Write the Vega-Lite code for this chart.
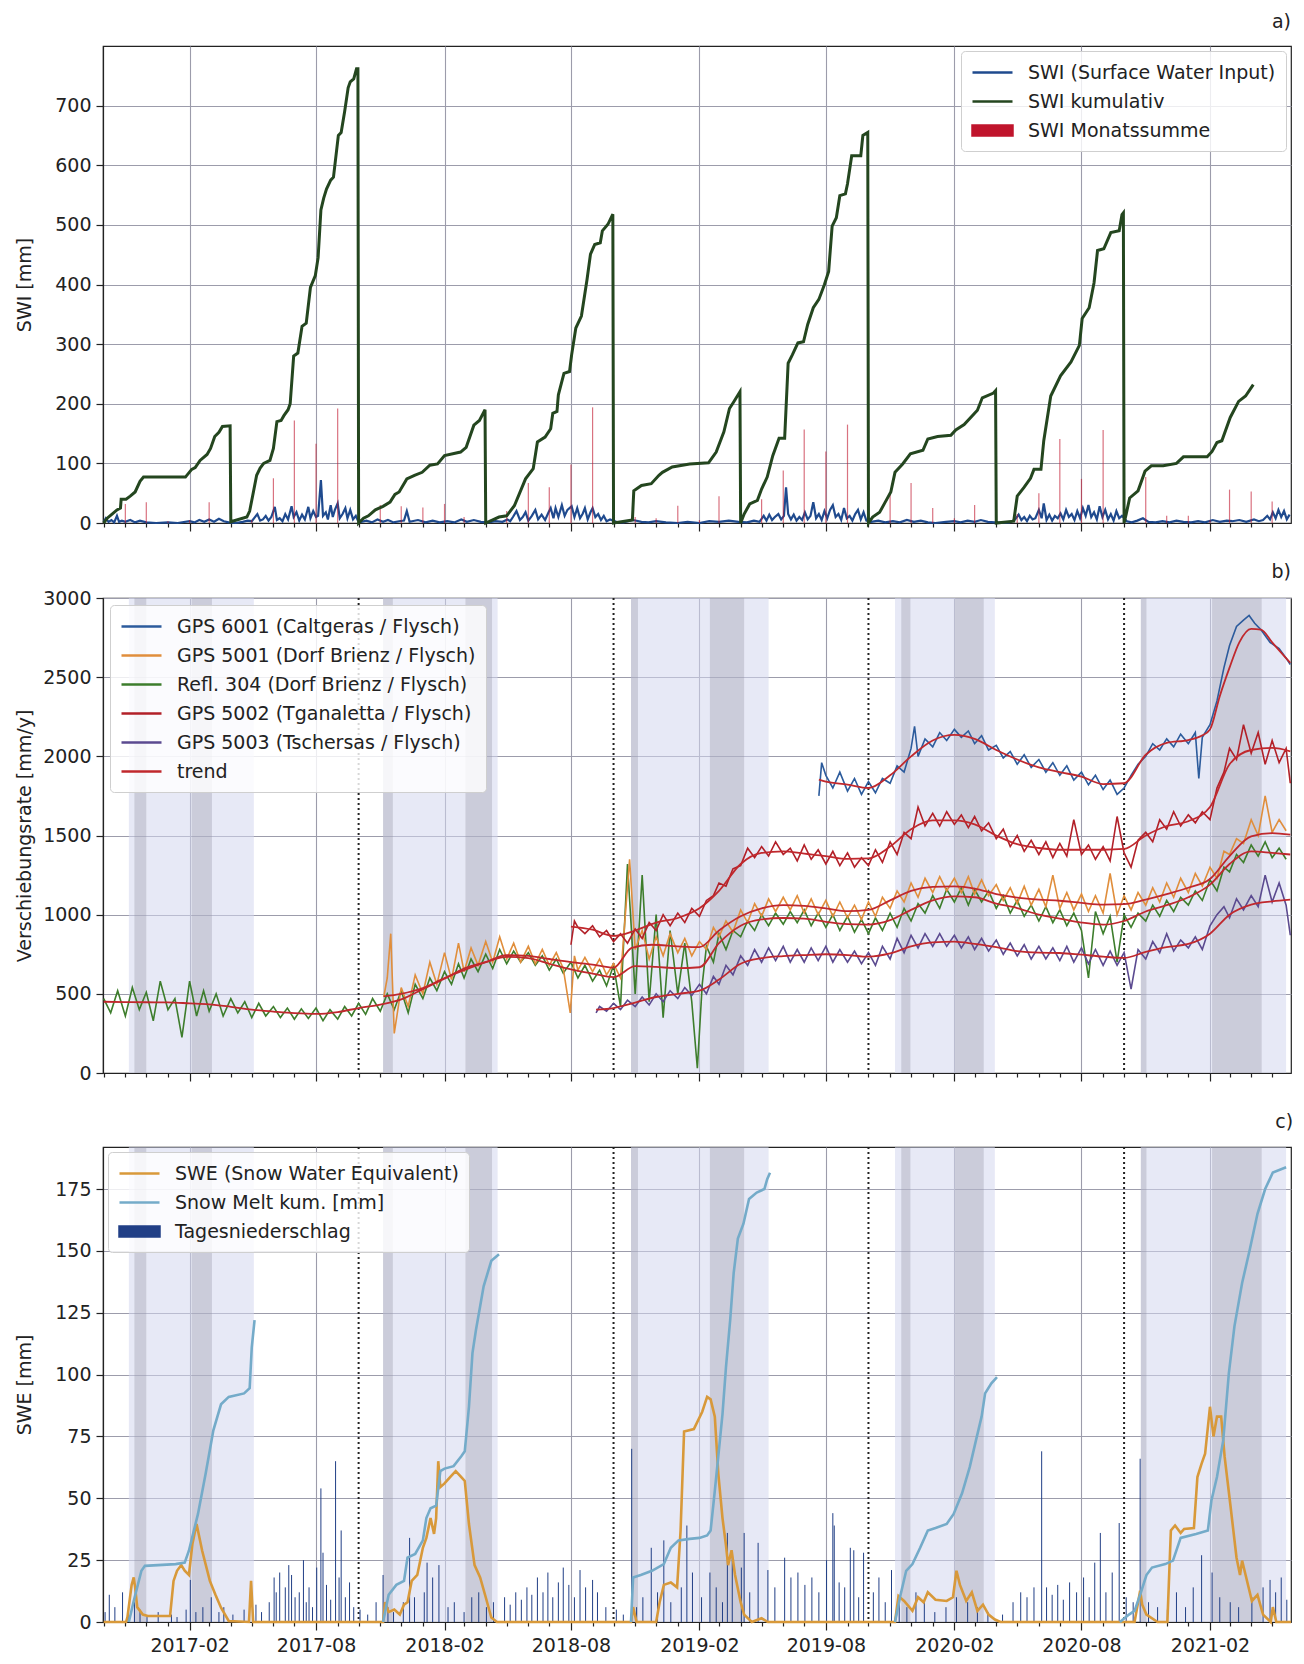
{
"$schema":"https://vega.github.io/schema/vega-lite/v6.json",
"padding":{"left":14,"top":12,"right":9,"bottom":4},
"spacing":28,
"resolve":{"scale":{"color":"independent"},"legend":{"color":"independent"}},
"config":{"font":"DejaVu Sans","view":{"stroke":"#222","strokeWidth":1.2},
"axis":{"labelFont":"DejaVu Sans","titleFont":"DejaVu Sans","labelColor":"#222","titleColor":"#222","labelFontSize":19,"titleFontSize":19,"titleFontWeight":"normal","domainColor":"#222","tickColor":"#222","gridColor":"#9c9cab","gridWidth":1.1,"domainWidth":1.2,"tickWidth":1.2},
"legend":{"labelFont":"DejaVu Sans","labelFontSize":19,"labelColor":"#222","labelLimit":500,"symbolType":"M-1,0H3","symbolSize":400,"symbolStrokeWidth":2.5,"labelOffset":34,"rowPadding":7,"padding":10,"fillColor":"rgba(255,255,255,0.82)","strokeColor":"#cfcfcf","cornerRadius":4},
"title":{"anchor":"end","fontSize":19,"font":"DejaVu Sans","fontWeight":"normal","offset":14,"dx":-3,"color":"#222"}},
"datasets":{
"bandsL":[{"t":"2016-11-06","t2":"2017-05-04"},{"t":"2017-11-05","t2":"2018-04-18"},{"t":"2018-10-26","t2":"2019-05-11"},{"t":"2019-11-08","t2":"2020-03-30"},{"t":"2020-10-25","t2":"2021-05-21"}],
"bandsD":[{"t":"2016-11-14","t2":"2016-12-01"},{"t":"2017-02-04","t2":"2017-03-05"},{"t":"2017-11-05","t2":"2017-11-19"},{"t":"2018-03-03","t2":"2018-04-10"},{"t":"2018-10-26","t2":"2018-11-05"},{"t":"2019-02-16","t2":"2019-04-06"},{"t":"2019-11-17","t2":"2019-11-30"},{"t":"2020-02-02","t2":"2020-03-14"},{"t":"2020-10-25","t2":"2020-11-02"},{"t":"2021-02-04","t2":"2021-04-16"}],
"oct":[{"t":"2017-10-01"},{"t":"2018-10-01"},{"t":"2019-10-01"},{"t":"2020-10-01"}],
"swi":[{"t":"2016-10-01","v":2},{"t":"2016-10-04","v":8},{"t":"2016-10-08","v":2},{"t":"2016-10-12","v":5},{"t":"2016-10-16","v":1},{"t":"2016-10-20","v":12},{"t":"2016-10-23","v":2},{"t":"2016-10-27","v":4},{"t":"2016-11-01","v":2},{"t":"2016-11-08","v":5},{"t":"2016-11-15","v":1},{"t":"2016-11-22","v":4},{"t":"2016-12-01","v":1},{"t":"2016-12-15","v":0},{"t":"2017-01-01","v":1},{"t":"2017-01-15","v":0},{"t":"2017-02-01","v":3},{"t":"2017-02-08","v":1},{"t":"2017-02-15","v":5},{"t":"2017-02-22","v":2},{"t":"2017-03-01","v":6},{"t":"2017-03-08","v":2},{"t":"2017-03-15","v":7},{"t":"2017-03-22","v":3},{"t":"2017-03-29","v":1},{"t":"2017-04-08","v":0},{"t":"2017-04-18","v":2},{"t":"2017-04-25","v":4},{"t":"2017-05-01","v":3},{"t":"2017-05-05","v":9},{"t":"2017-05-09","v":15},{"t":"2017-05-13","v":4},{"t":"2017-05-17","v":6},{"t":"2017-05-21","v":12},{"t":"2017-05-25","v":4},{"t":"2017-05-29","v":10},{"t":"2017-06-03","v":27},{"t":"2017-06-06","v":5},{"t":"2017-06-10","v":8},{"t":"2017-06-14","v":3},{"t":"2017-06-18","v":15},{"t":"2017-06-22","v":6},{"t":"2017-06-27","v":28},{"t":"2017-06-30","v":10},{"t":"2017-07-04","v":18},{"t":"2017-07-08","v":4},{"t":"2017-07-12","v":14},{"t":"2017-07-16","v":6},{"t":"2017-07-21","v":27},{"t":"2017-07-24","v":8},{"t":"2017-07-28","v":20},{"t":"2017-08-01","v":10},{"t":"2017-08-04","v":12},{"t":"2017-08-08","v":72},{"t":"2017-08-11","v":12},{"t":"2017-08-15","v":18},{"t":"2017-08-18","v":6},{"t":"2017-08-22","v":30},{"t":"2017-08-25","v":10},{"t":"2017-08-28","v":22},{"t":"2017-09-01","v":33},{"t":"2017-09-04","v":8},{"t":"2017-09-08","v":15},{"t":"2017-09-12","v":25},{"t":"2017-09-15","v":8},{"t":"2017-09-19","v":22},{"t":"2017-09-23","v":6},{"t":"2017-09-27","v":12},{"t":"2017-09-30","v":4},{"t":"2017-10-05","v":2},{"t":"2017-10-12","v":4},{"t":"2017-10-20","v":1},{"t":"2017-10-28","v":6},{"t":"2017-11-05","v":2},{"t":"2017-11-12","v":5},{"t":"2017-11-20","v":1},{"t":"2017-11-28","v":3},{"t":"2017-12-05","v":4},{"t":"2017-12-09","v":20},{"t":"2017-12-13","v":2},{"t":"2017-12-25","v":5},{"t":"2018-01-05","v":1},{"t":"2018-01-15","v":4},{"t":"2018-01-25","v":1},{"t":"2018-02-05","v":3},{"t":"2018-02-15","v":1},{"t":"2018-02-25","v":6},{"t":"2018-03-05","v":2},{"t":"2018-03-15","v":5},{"t":"2018-03-25","v":2},{"t":"2018-04-05","v":1},{"t":"2018-04-15","v":3},{"t":"2018-04-25","v":2},{"t":"2018-05-02","v":6},{"t":"2018-05-06","v":3},{"t":"2018-05-10","v":10},{"t":"2018-05-15","v":20},{"t":"2018-05-20","v":5},{"t":"2018-05-24","v":10},{"t":"2018-05-28","v":18},{"t":"2018-06-01","v":4},{"t":"2018-06-06","v":12},{"t":"2018-06-11","v":22},{"t":"2018-06-15","v":6},{"t":"2018-06-20","v":14},{"t":"2018-06-25","v":5},{"t":"2018-06-30","v":18},{"t":"2018-07-03","v":25},{"t":"2018-07-07","v":8},{"t":"2018-07-10","v":25},{"t":"2018-07-14","v":10},{"t":"2018-07-19","v":30},{"t":"2018-07-23","v":12},{"t":"2018-07-27","v":22},{"t":"2018-08-02","v":28},{"t":"2018-08-06","v":10},{"t":"2018-08-10","v":25},{"t":"2018-08-14","v":8},{"t":"2018-08-18","v":16},{"t":"2018-08-21","v":25},{"t":"2018-08-25","v":6},{"t":"2018-08-29","v":18},{"t":"2018-09-01","v":25},{"t":"2018-09-05","v":10},{"t":"2018-09-09","v":15},{"t":"2018-09-13","v":5},{"t":"2018-09-17","v":12},{"t":"2018-09-21","v":3},{"t":"2018-09-26","v":6},{"t":"2018-10-05","v":2},{"t":"2018-10-15","v":1},{"t":"2018-10-29","v":5},{"t":"2018-11-10","v":2},{"t":"2018-11-20","v":1},{"t":"2018-12-01","v":3},{"t":"2018-12-15","v":1},{"t":"2019-01-01","v":0},{"t":"2019-01-15","v":2},{"t":"2019-02-01","v":0},{"t":"2019-02-15","v":3},{"t":"2019-03-01","v":2},{"t":"2019-03-15","v":4},{"t":"2019-03-29","v":2},{"t":"2019-04-10","v":1},{"t":"2019-04-20","v":4},{"t":"2019-04-28","v":2},{"t":"2019-05-04","v":12},{"t":"2019-05-08","v":4},{"t":"2019-05-12","v":14},{"t":"2019-05-16","v":5},{"t":"2019-05-20","v":10},{"t":"2019-05-25","v":15},{"t":"2019-05-29","v":6},{"t":"2019-06-02","v":12},{"t":"2019-06-05","v":60},{"t":"2019-06-08","v":15},{"t":"2019-06-12","v":6},{"t":"2019-06-16","v":14},{"t":"2019-06-20","v":4},{"t":"2019-06-24","v":10},{"t":"2019-06-28","v":5},{"t":"2019-07-02","v":18},{"t":"2019-07-06","v":6},{"t":"2019-07-10","v":12},{"t":"2019-07-14","v":35},{"t":"2019-07-18","v":8},{"t":"2019-07-22","v":15},{"t":"2019-07-26","v":5},{"t":"2019-07-30","v":20},{"t":"2019-08-03","v":8},{"t":"2019-08-07","v":22},{"t":"2019-08-11","v":30},{"t":"2019-08-15","v":10},{"t":"2019-08-19","v":15},{"t":"2019-08-23","v":5},{"t":"2019-08-27","v":25},{"t":"2019-08-31","v":8},{"t":"2019-09-04","v":12},{"t":"2019-09-08","v":4},{"t":"2019-09-12","v":15},{"t":"2019-09-16","v":22},{"t":"2019-09-20","v":6},{"t":"2019-09-24","v":18},{"t":"2019-09-28","v":4},{"t":"2019-10-05","v":2},{"t":"2019-10-15","v":4},{"t":"2019-10-25","v":1},{"t":"2019-11-05","v":3},{"t":"2019-11-15","v":1},{"t":"2019-11-25","v":5},{"t":"2019-12-05","v":2},{"t":"2019-12-15","v":4},{"t":"2019-12-25","v":1},{"t":"2020-01-05","v":0},{"t":"2020-01-20","v":2},{"t":"2020-02-01","v":3},{"t":"2020-02-10","v":1},{"t":"2020-02-20","v":4},{"t":"2020-03-01","v":2},{"t":"2020-03-10","v":5},{"t":"2020-03-20","v":2},{"t":"2020-03-30","v":1},{"t":"2020-04-10","v":0},{"t":"2020-04-20","v":1},{"t":"2020-04-28","v":6},{"t":"2020-05-03","v":14},{"t":"2020-05-07","v":5},{"t":"2020-05-11","v":10},{"t":"2020-05-15","v":3},{"t":"2020-05-19","v":12},{"t":"2020-05-23","v":6},{"t":"2020-05-27","v":8},{"t":"2020-06-01","v":22},{"t":"2020-06-05","v":8},{"t":"2020-06-08","v":33},{"t":"2020-06-12","v":5},{"t":"2020-06-16","v":14},{"t":"2020-06-20","v":4},{"t":"2020-06-24","v":12},{"t":"2020-06-28","v":8},{"t":"2020-07-02","v":16},{"t":"2020-07-06","v":6},{"t":"2020-07-10","v":22},{"t":"2020-07-14","v":10},{"t":"2020-07-18","v":15},{"t":"2020-07-22","v":5},{"t":"2020-07-26","v":20},{"t":"2020-07-30","v":8},{"t":"2020-08-03","v":25},{"t":"2020-08-07","v":12},{"t":"2020-08-11","v":30},{"t":"2020-08-15","v":10},{"t":"2020-08-19","v":18},{"t":"2020-08-23","v":6},{"t":"2020-08-27","v":28},{"t":"2020-08-31","v":10},{"t":"2020-09-04","v":22},{"t":"2020-09-08","v":6},{"t":"2020-09-12","v":15},{"t":"2020-09-16","v":4},{"t":"2020-09-20","v":20},{"t":"2020-09-24","v":8},{"t":"2020-09-28","v":12},{"t":"2020-10-05","v":3},{"t":"2020-10-12","v":1},{"t":"2020-10-20","v":4},{"t":"2020-10-28","v":8},{"t":"2020-11-05","v":2},{"t":"2020-11-15","v":1},{"t":"2020-11-25","v":3},{"t":"2020-12-05","v":1},{"t":"2020-12-15","v":4},{"t":"2020-12-25","v":2},{"t":"2021-01-05","v":1},{"t":"2021-01-15","v":3},{"t":"2021-01-25","v":1},{"t":"2021-02-05","v":5},{"t":"2021-02-15","v":2},{"t":"2021-02-25","v":4},{"t":"2021-03-05","v":3},{"t":"2021-03-15","v":5},{"t":"2021-03-25","v":2},{"t":"2021-04-05","v":6},{"t":"2021-04-12","v":3},{"t":"2021-04-18","v":5},{"t":"2021-04-24","v":12},{"t":"2021-04-28","v":6},{"t":"2021-05-02","v":18},{"t":"2021-05-06","v":8},{"t":"2021-05-10","v":22},{"t":"2021-05-14","v":10},{"t":"2021-05-18","v":20},{"t":"2021-05-22","v":6},{"t":"2021-05-26","v":14}],
"cum":[{"t":"2016-10-01","v":0},{"t":"2016-10-06","v":8},{"t":"2016-10-13","v":15},{"t":"2016-10-20","v":22},{"t":"2016-10-25","v":25},{"t":"2016-10-26","v":40},{"t":"2016-11-02","v":40},{"t":"2016-11-08","v":45},{"t":"2016-11-15","v":52},{"t":"2016-11-22","v":70},{"t":"2016-11-27","v":77},{"t":"2017-01-26","v":77},{"t":"2017-02-04","v":90},{"t":"2017-02-09","v":93},{"t":"2017-02-16","v":105},{"t":"2017-02-26","v":115},{"t":"2017-03-03","v":125},{"t":"2017-03-09","v":145},{"t":"2017-03-15","v":152},{"t":"2017-03-20","v":162},{"t":"2017-03-31","v":163},{"t":"2017-04-01","v":2},{"t":"2017-04-24","v":10},{"t":"2017-04-28","v":20},{"t":"2017-05-03","v":50},{"t":"2017-05-08","v":80},{"t":"2017-05-13","v":92},{"t":"2017-05-18","v":100},{"t":"2017-05-27","v":105},{"t":"2017-06-01","v":125},{"t":"2017-06-06","v":170},{"t":"2017-06-12","v":172},{"t":"2017-06-16","v":180},{"t":"2017-06-22","v":190},{"t":"2017-06-25","v":200},{"t":"2017-06-30","v":280},{"t":"2017-07-06","v":285},{"t":"2017-07-12","v":330},{"t":"2017-07-18","v":335},{"t":"2017-07-24","v":395},{"t":"2017-07-31","v":415},{"t":"2017-08-04","v":445},{"t":"2017-08-08","v":525},{"t":"2017-08-12","v":545},{"t":"2017-08-16","v":560},{"t":"2017-08-22","v":575},{"t":"2017-08-26","v":580},{"t":"2017-09-02","v":650},{"t":"2017-09-06","v":655},{"t":"2017-09-11","v":690},{"t":"2017-09-16","v":730},{"t":"2017-09-19","v":740},{"t":"2017-09-24","v":745},{"t":"2017-09-28","v":762},{"t":"2017-09-30","v":762},{"t":"2017-10-01","v":0},{"t":"2017-10-08","v":8},{"t":"2017-10-15","v":12},{"t":"2017-10-25","v":22},{"t":"2017-11-05","v":28},{"t":"2017-11-15","v":35},{"t":"2017-11-22","v":48},{"t":"2017-11-28","v":52},{"t":"2017-12-09","v":74},{"t":"2017-12-20","v":80},{"t":"2017-12-31","v":85},{"t":"2018-01-11","v":97},{"t":"2018-01-22","v":99},{"t":"2018-02-01","v":113},{"t":"2018-02-24","v":119},{"t":"2018-03-04","v":127},{"t":"2018-03-15","v":164},{"t":"2018-03-23","v":172},{"t":"2018-03-31","v":190},{"t":"2018-04-01","v":0},{"t":"2018-04-20","v":10},{"t":"2018-05-01","v":12},{"t":"2018-05-12","v":29},{"t":"2018-05-28","v":74},{"t":"2018-06-08","v":91},{"t":"2018-06-14","v":136},{"t":"2018-06-25","v":144},{"t":"2018-07-03","v":158},{"t":"2018-07-06","v":184},{"t":"2018-07-12","v":187},{"t":"2018-07-14","v":215},{"t":"2018-07-22","v":251},{"t":"2018-07-30","v":254},{"t":"2018-08-02","v":282},{"t":"2018-08-08","v":327},{"t":"2018-08-16","v":347},{"t":"2018-08-24","v":408},{"t":"2018-08-29","v":451},{"t":"2018-09-04","v":467},{"t":"2018-09-12","v":470},{"t":"2018-09-15","v":490},{"t":"2018-09-23","v":501},{"t":"2018-09-30","v":518},{"t":"2018-10-01","v":0},{"t":"2018-10-28","v":5},{"t":"2018-10-30","v":54},{"t":"2018-11-10","v":63},{"t":"2018-11-24","v":66},{"t":"2018-12-05","v":80},{"t":"2018-12-10","v":85},{"t":"2018-12-24","v":94},{"t":"2019-01-18","v":99},{"t":"2019-02-14","v":101},{"t":"2019-02-25","v":119},{"t":"2019-03-08","v":153},{"t":"2019-03-16","v":192},{"t":"2019-03-22","v":203},{"t":"2019-03-31","v":220},{"t":"2019-04-01","v":0},{"t":"2019-04-06","v":15},{"t":"2019-04-14","v":32},{"t":"2019-04-25","v":38},{"t":"2019-05-01","v":57},{"t":"2019-05-09","v":77},{"t":"2019-05-17","v":113},{"t":"2019-05-26","v":142},{"t":"2019-06-03","v":142},{"t":"2019-06-08","v":268},{"t":"2019-06-14","v":282},{"t":"2019-06-22","v":302},{"t":"2019-06-30","v":304},{"t":"2019-07-06","v":333},{"t":"2019-07-14","v":361},{"t":"2019-07-22","v":375},{"t":"2019-07-30","v":400},{"t":"2019-08-05","v":422},{"t":"2019-08-10","v":498},{"t":"2019-08-16","v":512},{"t":"2019-08-21","v":549},{"t":"2019-08-29","v":552},{"t":"2019-09-01","v":569},{"t":"2019-09-07","v":616},{"t":"2019-09-20","v":616},{"t":"2019-09-23","v":650},{"t":"2019-09-30","v":655},{"t":"2019-10-01","v":0},{"t":"2019-10-07","v":10},{"t":"2019-10-17","v":18},{"t":"2019-10-25","v":35},{"t":"2019-11-02","v":52},{"t":"2019-11-08","v":85},{"t":"2019-11-19","v":99},{"t":"2019-11-30","v":116},{"t":"2019-12-18","v":122},{"t":"2019-12-25","v":141},{"t":"2020-01-08","v":145},{"t":"2020-01-27","v":147},{"t":"2020-02-03","v":156},{"t":"2020-02-15","v":165},{"t":"2020-03-05","v":189},{"t":"2020-03-12","v":210},{"t":"2020-03-28","v":218},{"t":"2020-03-31","v":222},{"t":"2020-04-01","v":0},{"t":"2020-04-26","v":3},{"t":"2020-05-01","v":45},{"t":"2020-05-11","v":60},{"t":"2020-05-20","v":75},{"t":"2020-05-25","v":90},{"t":"2020-06-04","v":90},{"t":"2020-06-08","v":138},{"t":"2020-06-18","v":213},{"t":"2020-07-02","v":247},{"t":"2020-07-17","v":270},{"t":"2020-07-29","v":298},{"t":"2020-08-02","v":343},{"t":"2020-08-12","v":361},{"t":"2020-08-19","v":403},{"t":"2020-08-24","v":457},{"t":"2020-09-02","v":460},{"t":"2020-09-12","v":487},{"t":"2020-09-24","v":490},{"t":"2020-09-28","v":517},{"t":"2020-09-30","v":520},{"t":"2020-10-01","v":0},{"t":"2020-10-04","v":15},{"t":"2020-10-09","v":42},{"t":"2020-10-21","v":54},{"t":"2020-10-31","v":87},{"t":"2020-11-09","v":96},{"t":"2020-11-26","v":96},{"t":"2020-12-15","v":100},{"t":"2020-12-25","v":111},{"t":"2021-01-28","v":111},{"t":"2021-02-04","v":120},{"t":"2021-02-11","v":135},{"t":"2021-02-18","v":138},{"t":"2021-03-02","v":177},{"t":"2021-03-14","v":204},{"t":"2021-03-24","v":213},{"t":"2021-04-04","v":232}],
"mon":[{"t":"2016-11-01","v":32},{"t":"2016-12-01","v":35},{"t":"2017-01-01","v":3},{"t":"2017-02-01","v":5},{"t":"2017-03-01","v":35},{"t":"2017-04-01","v":8},{"t":"2017-05-01","v":5},{"t":"2017-06-01","v":75},{"t":"2017-07-01","v":172},{"t":"2017-08-01","v":133},{"t":"2017-09-01","v":192},{"t":"2017-10-01","v":10},{"t":"2017-11-01","v":30},{"t":"2017-12-01","v":28},{"t":"2018-01-01","v":26},{"t":"2018-02-01","v":32},{"t":"2018-03-01","v":10},{"t":"2018-04-01","v":15},{"t":"2018-05-01","v":20},{"t":"2018-06-01","v":67},{"t":"2018-07-01","v":60},{"t":"2018-08-01","v":98},{"t":"2018-09-01","v":194},{"t":"2018-10-01","v":45},{"t":"2018-11-01","v":10},{"t":"2018-12-01","v":8},{"t":"2019-01-01","v":29},{"t":"2019-02-01","v":5},{"t":"2019-03-01","v":45},{"t":"2019-04-01","v":10},{"t":"2019-05-01","v":40},{"t":"2019-06-01","v":88},{"t":"2019-07-01","v":157},{"t":"2019-08-01","v":120},{"t":"2019-09-01","v":165},{"t":"2019-10-01","v":30},{"t":"2019-11-01","v":49},{"t":"2019-12-01","v":67},{"t":"2020-01-01","v":25},{"t":"2020-02-01","v":8},{"t":"2020-03-01","v":30},{"t":"2020-04-01","v":5},{"t":"2020-05-01","v":15},{"t":"2020-06-01","v":50},{"t":"2020-07-01","v":141},{"t":"2020-08-01","v":74},{"t":"2020-09-01","v":156},{"t":"2020-10-01","v":40},{"t":"2020-11-01","v":77},{"t":"2020-12-01","v":12},{"t":"2021-01-01","v":12},{"t":"2021-02-01","v":5},{"t":"2021-03-01","v":56},{"t":"2021-04-01","v":53},{"t":"2021-05-01","v":36}],
"refl":[{"t":"2016-10-01","v":470},{"t":"2016-10-11","v":380},{"t":"2016-10-21","v":520},{"t":"2016-11-01","v":360},{"t":"2016-11-11","v":540},{"t":"2016-11-21","v":400},{"t":"2016-12-01","v":510},{"t":"2016-12-11","v":330},{"t":"2016-12-21","v":580},{"t":"2017-01-01","v":400},{"t":"2017-01-11","v":470},{"t":"2017-01-21","v":225},{"t":"2017-02-01","v":580},{"t":"2017-02-11","v":360},{"t":"2017-02-21","v":520},{"t":"2017-03-01","v":390},{"t":"2017-03-11","v":500},{"t":"2017-03-21","v":360},{"t":"2017-04-01","v":470},{"t":"2017-04-11","v":380},{"t":"2017-04-21","v":450},{"t":"2017-05-01","v":350},{"t":"2017-05-11","v":440},{"t":"2017-05-21","v":360},{"t":"2017-06-01","v":420},{"t":"2017-06-11","v":350},{"t":"2017-06-21","v":410},{"t":"2017-07-01","v":340},{"t":"2017-07-11","v":405},{"t":"2017-07-21","v":345},{"t":"2017-08-01","v":410},{"t":"2017-08-11","v":330},{"t":"2017-08-21","v":400},{"t":"2017-09-01","v":340},{"t":"2017-09-11","v":420},{"t":"2017-09-21","v":360},{"t":"2017-10-01","v":440},{"t":"2017-10-11","v":370},{"t":"2017-10-21","v":470},{"t":"2017-11-01","v":390},{"t":"2017-11-11","v":500},{"t":"2017-11-21","v":400},{"t":"2017-12-01","v":520},{"t":"2017-12-11","v":380},{"t":"2017-12-21","v":560},{"t":"2018-01-01","v":470},{"t":"2018-01-11","v":600},{"t":"2018-01-21","v":520},{"t":"2018-02-01","v":640},{"t":"2018-02-11","v":560},{"t":"2018-02-21","v":690},{"t":"2018-03-01","v":600},{"t":"2018-03-11","v":720},{"t":"2018-03-21","v":640},{"t":"2018-04-01","v":750},{"t":"2018-04-11","v":660},{"t":"2018-04-21","v":780},{"t":"2018-05-01","v":690},{"t":"2018-05-11","v":770},{"t":"2018-05-21","v":700},{"t":"2018-06-01","v":760},{"t":"2018-06-11","v":680},{"t":"2018-06-21","v":740},{"t":"2018-07-01","v":650},{"t":"2018-07-11","v":720},{"t":"2018-07-21","v":630},{"t":"2018-08-01","v":700},{"t":"2018-08-11","v":600},{"t":"2018-08-21","v":680},{"t":"2018-09-01","v":580},{"t":"2018-09-11","v":650},{"t":"2018-09-21","v":550},{"t":"2018-10-01","v":680},{"t":"2018-10-11","v":420},{"t":"2018-10-21","v":1320},{"t":"2018-11-01","v":500},{"t":"2018-11-11","v":1250},{"t":"2018-11-21","v":450},{"t":"2018-12-01","v":1000},{"t":"2018-12-11","v":350},{"t":"2018-12-21","v":900},{"t":"2019-01-01","v":500},{"t":"2019-01-11","v":820},{"t":"2019-01-21","v":450},{"t":"2019-01-29","v":30},{"t":"2019-02-05","v":560},{"t":"2019-02-11","v":800},{"t":"2019-02-21","v":700},{"t":"2019-03-01","v":880},{"t":"2019-03-11","v":780},{"t":"2019-03-21","v":900},{"t":"2019-04-01","v":860},{"t":"2019-04-11","v":960},{"t":"2019-04-21","v":900},{"t":"2019-05-01","v":1000},{"t":"2019-05-11","v":930},{"t":"2019-05-21","v":1010},{"t":"2019-06-01","v":940},{"t":"2019-06-11","v":1020},{"t":"2019-06-21","v":950},{"t":"2019-07-01","v":1030},{"t":"2019-07-11","v":930},{"t":"2019-07-21","v":1010},{"t":"2019-08-01","v":920},{"t":"2019-08-11","v":1000},{"t":"2019-08-21","v":900},{"t":"2019-09-01","v":990},{"t":"2019-09-11","v":890},{"t":"2019-09-21","v":970},{"t":"2019-10-01","v":880},{"t":"2019-10-11","v":980},{"t":"2019-10-21","v":900},{"t":"2019-11-01","v":1010},{"t":"2019-11-11","v":920},{"t":"2019-11-21","v":1040},{"t":"2019-12-01","v":960},{"t":"2019-12-11","v":1070},{"t":"2019-12-21","v":1010},{"t":"2020-01-01","v":1120},{"t":"2020-01-11","v":1040},{"t":"2020-01-21","v":1160},{"t":"2020-02-01","v":1080},{"t":"2020-02-11","v":1170},{"t":"2020-02-21","v":1060},{"t":"2020-03-01","v":1160},{"t":"2020-03-11","v":1080},{"t":"2020-03-21","v":1150},{"t":"2020-04-01","v":1040},{"t":"2020-04-11","v":1120},{"t":"2020-04-21","v":1010},{"t":"2020-05-01","v":1090},{"t":"2020-05-11","v":990},{"t":"2020-05-21","v":1060},{"t":"2020-06-01","v":960},{"t":"2020-06-11","v":1050},{"t":"2020-06-21","v":950},{"t":"2020-07-01","v":1030},{"t":"2020-07-11","v":930},{"t":"2020-07-21","v":1010},{"t":"2020-08-01","v":900},{"t":"2020-08-11","v":600},{"t":"2020-08-21","v":1020},{"t":"2020-09-01","v":880},{"t":"2020-09-11","v":990},{"t":"2020-09-21","v":700},{"t":"2020-10-01","v":1000},{"t":"2020-10-11","v":920},{"t":"2020-10-21","v":1010},{"t":"2020-11-01","v":960},{"t":"2020-11-11","v":1060},{"t":"2020-11-21","v":990},{"t":"2020-12-01","v":1090},{"t":"2020-12-11","v":1020},{"t":"2020-12-21","v":1110},{"t":"2021-01-01","v":1060},{"t":"2021-01-11","v":1150},{"t":"2021-01-21","v":1090},{"t":"2021-02-01","v":1220},{"t":"2021-02-11","v":1150},{"t":"2021-02-21","v":1300},{"t":"2021-03-01","v":1270},{"t":"2021-03-11","v":1380},{"t":"2021-03-21","v":1330},{"t":"2021-04-01","v":1440},{"t":"2021-04-11","v":1370},{"t":"2021-04-21","v":1460},{"t":"2021-05-01","v":1360},{"t":"2021-05-11","v":1420},{"t":"2021-05-21","v":1350}],
"g5001":[{"t":"2017-11-06","v":480},{"t":"2017-11-11","v":600},{"t":"2017-11-16","v":880},{"t":"2017-11-21","v":250},{"t":"2017-12-01","v":540},{"t":"2017-12-11","v":420},{"t":"2017-12-21","v":620},{"t":"2018-01-01","v":500},{"t":"2018-01-11","v":700},{"t":"2018-01-21","v":560},{"t":"2018-02-01","v":760},{"t":"2018-02-11","v":590},{"t":"2018-02-21","v":820},{"t":"2018-03-01","v":640},{"t":"2018-03-11","v":790},{"t":"2018-03-21","v":680},{"t":"2018-04-01","v":830},{"t":"2018-04-11","v":700},{"t":"2018-04-21","v":860},{"t":"2018-05-01","v":720},{"t":"2018-05-11","v":820},{"t":"2018-05-21","v":700},{"t":"2018-06-01","v":800},{"t":"2018-06-11","v":690},{"t":"2018-06-21","v":780},{"t":"2018-07-01","v":680},{"t":"2018-07-11","v":760},{"t":"2018-07-21","v":660},{"t":"2018-07-31","v":380},{"t":"2018-08-06","v":740},{"t":"2018-08-11","v":650},{"t":"2018-08-21","v":730},{"t":"2018-09-01","v":640},{"t":"2018-09-11","v":720},{"t":"2018-09-21","v":620},{"t":"2018-10-01","v":690},{"t":"2018-10-11","v":600},{"t":"2018-10-24","v":1350},{"t":"2018-11-01","v":780},{"t":"2018-11-11","v":900},{"t":"2018-11-21","v":720},{"t":"2018-12-01","v":860},{"t":"2018-12-11","v":740},{"t":"2018-12-21","v":880},{"t":"2019-01-01","v":760},{"t":"2019-01-11","v":850},{"t":"2019-01-21","v":740},{"t":"2019-02-01","v":830},{"t":"2019-02-11","v":780},{"t":"2019-02-21","v":920},{"t":"2019-03-01","v":860},{"t":"2019-03-11","v":960},{"t":"2019-03-21","v":890},{"t":"2019-04-01","v":1030},{"t":"2019-04-11","v":950},{"t":"2019-04-21","v":1070},{"t":"2019-05-01","v":990},{"t":"2019-05-11","v":1100},{"t":"2019-05-21","v":1020},{"t":"2019-06-01","v":1110},{"t":"2019-06-11","v":1030},{"t":"2019-06-21","v":1120},{"t":"2019-07-01","v":1010},{"t":"2019-07-11","v":1100},{"t":"2019-07-21","v":1000},{"t":"2019-08-01","v":1090},{"t":"2019-08-11","v":990},{"t":"2019-08-21","v":1080},{"t":"2019-09-01","v":980},{"t":"2019-09-11","v":1060},{"t":"2019-09-21","v":970},{"t":"2019-10-01","v":1080},{"t":"2019-10-11","v":990},{"t":"2019-10-21","v":1110},{"t":"2019-11-01","v":1040},{"t":"2019-11-11","v":1150},{"t":"2019-11-21","v":1080},{"t":"2019-12-01","v":1200},{"t":"2019-12-11","v":1110},{"t":"2019-12-21","v":1230},{"t":"2020-01-01","v":1140},{"t":"2020-01-11","v":1240},{"t":"2020-01-21","v":1150},{"t":"2020-02-01","v":1230},{"t":"2020-02-11","v":1140},{"t":"2020-02-21","v":1240},{"t":"2020-03-01","v":1130},{"t":"2020-03-11","v":1220},{"t":"2020-03-21","v":1120},{"t":"2020-04-01","v":1190},{"t":"2020-04-11","v":1090},{"t":"2020-04-21","v":1170},{"t":"2020-05-01","v":1070},{"t":"2020-05-11","v":1180},{"t":"2020-05-21","v":1060},{"t":"2020-06-01","v":1160},{"t":"2020-06-11","v":1050},{"t":"2020-06-21","v":1250},{"t":"2020-07-01","v":1040},{"t":"2020-07-11","v":1140},{"t":"2020-07-21","v":1030},{"t":"2020-08-01","v":1130},{"t":"2020-08-11","v":1020},{"t":"2020-08-21","v":1120},{"t":"2020-09-01","v":1010},{"t":"2020-09-11","v":1260},{"t":"2020-09-21","v":1000},{"t":"2020-10-01","v":1120},{"t":"2020-10-11","v":1030},{"t":"2020-10-21","v":1140},{"t":"2020-11-01","v":1060},{"t":"2020-11-11","v":1170},{"t":"2020-11-21","v":1080},{"t":"2020-12-01","v":1200},{"t":"2020-12-11","v":1110},{"t":"2020-12-21","v":1230},{"t":"2021-01-01","v":1140},{"t":"2021-01-11","v":1260},{"t":"2021-01-21","v":1180},{"t":"2021-02-01","v":1300},{"t":"2021-02-11","v":1230},{"t":"2021-02-21","v":1400},{"t":"2021-03-01","v":1380},{"t":"2021-03-11","v":1480},{"t":"2021-03-21","v":1450},{"t":"2021-04-01","v":1600},{"t":"2021-04-11","v":1500},{"t":"2021-04-21","v":1750},{"t":"2021-05-01","v":1520},{"t":"2021-05-11","v":1600},{"t":"2021-05-21","v":1530}],
"g5002":[{"t":"2018-08-01","v":810},{"t":"2018-08-06","v":960},{"t":"2018-08-11","v":920},{"t":"2018-08-21","v":880},{"t":"2018-09-01","v":930},{"t":"2018-09-11","v":860},{"t":"2018-09-21","v":900},{"t":"2018-10-01","v":830},{"t":"2018-10-11","v":880},{"t":"2018-10-21","v":820},{"t":"2018-11-01","v":910},{"t":"2018-11-11","v":850},{"t":"2018-11-21","v":950},{"t":"2018-12-01","v":900},{"t":"2018-12-11","v":1000},{"t":"2018-12-21","v":930},{"t":"2019-01-01","v":1010},{"t":"2019-01-11","v":950},{"t":"2019-01-21","v":1040},{"t":"2019-02-01","v":990},{"t":"2019-02-11","v":1090},{"t":"2019-02-21","v":1120},{"t":"2019-03-01","v":1200},{"t":"2019-03-11","v":1180},{"t":"2019-03-21","v":1290},{"t":"2019-04-01","v":1310},{"t":"2019-04-11","v":1420},{"t":"2019-04-21","v":1360},{"t":"2019-05-01","v":1430},{"t":"2019-05-11","v":1370},{"t":"2019-05-21","v":1460},{"t":"2019-06-01","v":1380},{"t":"2019-06-11","v":1420},{"t":"2019-06-21","v":1340},{"t":"2019-07-01","v":1440},{"t":"2019-07-11","v":1350},{"t":"2019-07-21","v":1410},{"t":"2019-08-01","v":1320},{"t":"2019-08-11","v":1400},{"t":"2019-08-21","v":1310},{"t":"2019-09-01","v":1390},{"t":"2019-09-11","v":1300},{"t":"2019-09-21","v":1360},{"t":"2019-10-01","v":1310},{"t":"2019-10-11","v":1410},{"t":"2019-10-21","v":1330},{"t":"2019-11-01","v":1460},{"t":"2019-11-11","v":1380},{"t":"2019-11-21","v":1520},{"t":"2019-12-01","v":1480},{"t":"2019-12-11","v":1680},{"t":"2019-12-21","v":1560},{"t":"2020-01-01","v":1640},{"t":"2020-01-11","v":1560},{"t":"2020-01-21","v":1650},{"t":"2020-02-01","v":1570},{"t":"2020-02-11","v":1630},{"t":"2020-02-21","v":1550},{"t":"2020-03-01","v":1620},{"t":"2020-03-11","v":1530},{"t":"2020-03-21","v":1580},{"t":"2020-04-01","v":1480},{"t":"2020-04-11","v":1540},{"t":"2020-04-21","v":1430},{"t":"2020-05-01","v":1500},{"t":"2020-05-11","v":1400},{"t":"2020-05-21","v":1470},{"t":"2020-06-01","v":1380},{"t":"2020-06-11","v":1460},{"t":"2020-06-21","v":1360},{"t":"2020-07-01","v":1450},{"t":"2020-07-11","v":1370},{"t":"2020-07-21","v":1600},{"t":"2020-08-01","v":1380},{"t":"2020-08-11","v":1440},{"t":"2020-08-21","v":1350},{"t":"2020-09-01","v":1430},{"t":"2020-09-11","v":1340},{"t":"2020-09-21","v":1620},{"t":"2020-10-01","v":1390},{"t":"2020-10-11","v":1300},{"t":"2020-10-21","v":1470},{"t":"2020-11-01","v":1520},{"t":"2020-11-11","v":1460},{"t":"2020-11-21","v":1600},{"t":"2020-12-01","v":1540},{"t":"2020-12-11","v":1650},{"t":"2020-12-21","v":1560},{"t":"2021-01-01","v":1630},{"t":"2021-01-11","v":1580},{"t":"2021-01-21","v":1650},{"t":"2021-02-01","v":1600},{"t":"2021-02-11","v":1800},{"t":"2021-02-21","v":1900},{"t":"2021-03-01","v":2050},{"t":"2021-03-11","v":1980},{"t":"2021-03-21","v":2200},{"t":"2021-04-01","v":2020},{"t":"2021-04-11","v":2150},{"t":"2021-04-21","v":1950},{"t":"2021-05-01","v":2100},{"t":"2021-05-11","v":1960},{"t":"2021-05-21","v":2050},{"t":"2021-05-27","v":1830}],
"g5003":[{"t":"2018-09-06","v":380},{"t":"2018-09-11","v":420},{"t":"2018-09-21","v":390},{"t":"2018-10-01","v":440},{"t":"2018-10-11","v":400},{"t":"2018-10-21","v":460},{"t":"2018-11-01","v":420},{"t":"2018-11-11","v":480},{"t":"2018-11-21","v":430},{"t":"2018-12-01","v":500},{"t":"2018-12-11","v":450},{"t":"2018-12-21","v":520},{"t":"2019-01-01","v":470},{"t":"2019-01-11","v":540},{"t":"2019-01-21","v":490},{"t":"2019-02-01","v":560},{"t":"2019-02-11","v":500},{"t":"2019-02-21","v":610},{"t":"2019-03-01","v":560},{"t":"2019-03-11","v":680},{"t":"2019-03-21","v":620},{"t":"2019-04-01","v":740},{"t":"2019-04-11","v":680},{"t":"2019-04-21","v":780},{"t":"2019-05-01","v":700},{"t":"2019-05-11","v":790},{"t":"2019-05-21","v":710},{"t":"2019-06-01","v":800},{"t":"2019-06-11","v":700},{"t":"2019-06-21","v":780},{"t":"2019-07-01","v":700},{"t":"2019-07-11","v":790},{"t":"2019-07-21","v":710},{"t":"2019-08-01","v":800},{"t":"2019-08-11","v":700},{"t":"2019-08-21","v":780},{"t":"2019-09-01","v":700},{"t":"2019-09-11","v":770},{"t":"2019-09-21","v":690},{"t":"2019-10-01","v":760},{"t":"2019-10-11","v":680},{"t":"2019-10-21","v":800},{"t":"2019-11-01","v":720},{"t":"2019-11-11","v":850},{"t":"2019-11-21","v":760},{"t":"2019-12-01","v":870},{"t":"2019-12-11","v":790},{"t":"2019-12-21","v":880},{"t":"2020-01-01","v":800},{"t":"2020-01-11","v":880},{"t":"2020-01-21","v":800},{"t":"2020-02-01","v":870},{"t":"2020-02-11","v":790},{"t":"2020-02-21","v":860},{"t":"2020-03-01","v":780},{"t":"2020-03-11","v":850},{"t":"2020-03-21","v":770},{"t":"2020-04-01","v":840},{"t":"2020-04-11","v":750},{"t":"2020-04-21","v":820},{"t":"2020-05-01","v":740},{"t":"2020-05-11","v":810},{"t":"2020-05-21","v":720},{"t":"2020-06-01","v":800},{"t":"2020-06-11","v":720},{"t":"2020-06-21","v":790},{"t":"2020-07-01","v":710},{"t":"2020-07-11","v":800},{"t":"2020-07-21","v":700},{"t":"2020-08-01","v":790},{"t":"2020-08-11","v":690},{"t":"2020-08-21","v":780},{"t":"2020-09-01","v":680},{"t":"2020-09-11","v":770},{"t":"2020-09-21","v":680},{"t":"2020-10-01","v":760},{"t":"2020-10-11","v":530},{"t":"2020-10-21","v":780},{"t":"2020-11-01","v":720},{"t":"2020-11-11","v":830},{"t":"2020-11-21","v":760},{"t":"2020-12-01","v":880},{"t":"2020-12-11","v":770},{"t":"2020-12-21","v":840},{"t":"2021-01-01","v":790},{"t":"2021-01-11","v":860},{"t":"2021-01-21","v":780},{"t":"2021-02-01","v":930},{"t":"2021-02-11","v":1000},{"t":"2021-02-21","v":1050},{"t":"2021-03-01","v":980},{"t":"2021-03-11","v":1100},{"t":"2021-03-21","v":1030},{"t":"2021-04-01","v":1120},{"t":"2021-04-11","v":1050},{"t":"2021-04-21","v":1250},{"t":"2021-05-01","v":1080},{"t":"2021-05-11","v":1200},{"t":"2021-05-21","v":1060},{"t":"2021-05-27","v":870}],
"g6001":[{"t":"2019-07-22","v":1750},{"t":"2019-07-26","v":1960},{"t":"2019-08-01","v":1880},{"t":"2019-08-11","v":1800},{"t":"2019-08-21","v":1900},{"t":"2019-09-01","v":1780},{"t":"2019-09-11","v":1860},{"t":"2019-09-21","v":1760},{"t":"2019-10-01","v":1840},{"t":"2019-10-11","v":1770},{"t":"2019-10-21","v":1860},{"t":"2019-11-01","v":1830},{"t":"2019-11-11","v":1940},{"t":"2019-11-21","v":1900},{"t":"2019-12-01","v":2050},{"t":"2019-12-06","v":2190},{"t":"2019-12-11","v":2000},{"t":"2019-12-21","v":2110},{"t":"2020-01-01","v":2060},{"t":"2020-01-11","v":2150},{"t":"2020-01-21","v":2100},{"t":"2020-02-01","v":2170},{"t":"2020-02-11","v":2120},{"t":"2020-02-21","v":2160},{"t":"2020-03-01","v":2080},{"t":"2020-03-11","v":2130},{"t":"2020-03-21","v":2040},{"t":"2020-04-01","v":2070},{"t":"2020-04-11","v":1990},{"t":"2020-04-21","v":2030},{"t":"2020-05-01","v":1950},{"t":"2020-05-11","v":2010},{"t":"2020-05-21","v":1930},{"t":"2020-06-01","v":1980},{"t":"2020-06-11","v":1900},{"t":"2020-06-21","v":1960},{"t":"2020-07-01","v":1880},{"t":"2020-07-11","v":1940},{"t":"2020-07-21","v":1850},{"t":"2020-08-01","v":1900},{"t":"2020-08-11","v":1820},{"t":"2020-08-21","v":1880},{"t":"2020-09-01","v":1790},{"t":"2020-09-11","v":1850},{"t":"2020-09-21","v":1760},{"t":"2020-10-01","v":1800},{"t":"2020-10-11","v":1880},{"t":"2020-10-21","v":1950},{"t":"2020-11-01","v":2000},{"t":"2020-11-11","v":2080},{"t":"2020-11-21","v":2040},{"t":"2020-12-01","v":2110},{"t":"2020-12-11","v":2060},{"t":"2020-12-21","v":2140},{"t":"2021-01-01","v":2080},{"t":"2021-01-11","v":2150},{"t":"2021-01-16","v":1860},{"t":"2021-01-21","v":2120},{"t":"2021-02-01","v":2200},{"t":"2021-02-11","v":2350},{"t":"2021-02-21","v":2560},{"t":"2021-03-01","v":2700},{"t":"2021-03-11","v":2820},{"t":"2021-03-21","v":2860},{"t":"2021-03-29","v":2890},{"t":"2021-04-06","v":2840},{"t":"2021-04-15","v":2800},{"t":"2021-04-28","v":2720},{"t":"2021-05-11","v":2680},{"t":"2021-05-21","v":2620},{"t":"2021-05-27","v":2580}],
"trRefl":[{"t":"2016-10-01","v":450},{"t":"2016-11-01","v":448},{"t":"2016-12-01","v":447},{"t":"2017-01-01","v":446},{"t":"2017-02-01","v":440},{"t":"2017-03-01","v":434},{"t":"2017-04-01","v":418},{"t":"2017-05-01","v":400},{"t":"2017-06-01","v":388},{"t":"2017-07-01","v":378},{"t":"2017-08-01","v":373},{"t":"2017-09-01","v":385},{"t":"2017-10-01","v":410},{"t":"2017-11-01","v":432},{"t":"2017-12-01","v":465},{"t":"2018-01-01","v":530},{"t":"2018-02-01","v":595},{"t":"2018-03-01","v":660},{"t":"2018-04-01","v":700},{"t":"2018-05-01","v":733},{"t":"2018-06-01","v":725},{"t":"2018-07-01","v":690},{"t":"2018-08-01","v":655},{"t":"2018-09-01","v":628},{"t":"2018-10-01","v":605},{"t":"2018-11-01","v":675},{"t":"2018-12-01","v":670},{"t":"2019-01-01","v":662},{"t":"2019-02-01","v":668},{"t":"2019-03-01","v":820},{"t":"2019-04-01","v":930},{"t":"2019-05-01","v":970},{"t":"2019-06-01","v":979},{"t":"2019-07-01","v":975},{"t":"2019-08-01","v":955},{"t":"2019-09-01","v":940},{"t":"2019-10-01","v":937},{"t":"2019-11-01","v":965},{"t":"2019-12-01","v":1030},{"t":"2020-01-01","v":1090},{"t":"2020-02-01","v":1115},{"t":"2020-03-01","v":1110},{"t":"2020-04-01","v":1070},{"t":"2020-05-01","v":1042},{"t":"2020-06-01","v":1000},{"t":"2020-07-01","v":975},{"t":"2020-08-01","v":950},{"t":"2020-09-01","v":937},{"t":"2020-10-01","v":960},{"t":"2020-11-01","v":1020},{"t":"2020-12-01","v":1060},{"t":"2021-01-01","v":1110},{"t":"2021-02-01","v":1190},{"t":"2021-03-01","v":1320},{"t":"2021-04-01","v":1400},{"t":"2021-05-01","v":1390},{"t":"2021-05-27","v":1380}],
"tr5001":[{"t":"2017-11-06","v":484},{"t":"2017-12-01","v":500},{"t":"2018-01-01","v":537},{"t":"2018-02-01","v":600},{"t":"2018-03-01","v":650},{"t":"2018-04-01","v":700},{"t":"2018-05-01","v":745},{"t":"2018-06-01","v":740},{"t":"2018-07-01","v":720},{"t":"2018-08-01","v":700},{"t":"2018-09-01","v":685},{"t":"2018-10-01","v":665},{"t":"2018-10-27","v":790},{"t":"2018-11-25","v":810},{"t":"2019-01-01","v":800},{"t":"2019-02-01","v":795},{"t":"2019-03-01","v":900},{"t":"2019-04-01","v":990},{"t":"2019-05-01","v":1040},{"t":"2019-06-01","v":1060},{"t":"2019-07-01","v":1055},{"t":"2019-08-01","v":1040},{"t":"2019-09-01","v":1022},{"t":"2019-10-01","v":1030},{"t":"2019-11-01","v":1090},{"t":"2019-12-01","v":1150},{"t":"2020-01-01","v":1175},{"t":"2020-02-01","v":1179},{"t":"2020-03-01","v":1165},{"t":"2020-04-01","v":1130},{"t":"2020-05-01","v":1108},{"t":"2020-06-01","v":1095},{"t":"2020-07-01","v":1088},{"t":"2020-08-01","v":1074},{"t":"2020-09-01","v":1063},{"t":"2020-10-01","v":1066},{"t":"2020-11-01","v":1095},{"t":"2020-12-01","v":1130},{"t":"2021-01-01","v":1170},{"t":"2021-02-01","v":1225},{"t":"2021-03-01","v":1370},{"t":"2021-04-01","v":1495},{"t":"2021-05-01","v":1515},{"t":"2021-05-27","v":1505}],
"tr5002":[{"t":"2018-08-01","v":925},{"t":"2018-09-01","v":905},{"t":"2018-10-01","v":866},{"t":"2018-11-01","v":900},{"t":"2018-12-01","v":950},{"t":"2019-01-01","v":979},{"t":"2019-02-01","v":1040},{"t":"2019-03-01","v":1150},{"t":"2019-04-01","v":1320},{"t":"2019-05-01","v":1390},{"t":"2019-06-01","v":1400},{"t":"2019-07-01","v":1385},{"t":"2019-08-01","v":1370},{"t":"2019-09-01","v":1352},{"t":"2019-10-01","v":1355},{"t":"2019-11-01","v":1430},{"t":"2019-12-01","v":1540},{"t":"2020-01-01","v":1595},{"t":"2020-02-01","v":1595},{"t":"2020-03-01","v":1570},{"t":"2020-04-01","v":1500},{"t":"2020-05-01","v":1445},{"t":"2020-06-01","v":1421},{"t":"2020-07-01","v":1410},{"t":"2020-08-01","v":1410},{"t":"2020-09-01","v":1410},{"t":"2020-10-01","v":1415},{"t":"2020-11-01","v":1500},{"t":"2020-12-01","v":1560},{"t":"2021-01-01","v":1590},{"t":"2021-02-01","v":1680},{"t":"2021-03-01","v":1950},{"t":"2021-04-01","v":2040},{"t":"2021-05-01","v":2053},{"t":"2021-05-27","v":2032}],
"tr5003":[{"t":"2018-09-06","v":400},{"t":"2018-10-01","v":410},{"t":"2018-11-01","v":445},{"t":"2018-12-01","v":480},{"t":"2019-01-01","v":500},{"t":"2019-02-01","v":520},{"t":"2019-03-01","v":590},{"t":"2019-04-01","v":690},{"t":"2019-05-01","v":725},{"t":"2019-06-01","v":738},{"t":"2019-07-01","v":745},{"t":"2019-08-01","v":750},{"t":"2019-09-01","v":745},{"t":"2019-10-01","v":735},{"t":"2019-11-01","v":755},{"t":"2019-12-01","v":800},{"t":"2020-01-01","v":825},{"t":"2020-02-01","v":830},{"t":"2020-03-01","v":815},{"t":"2020-04-01","v":795},{"t":"2020-05-01","v":770},{"t":"2020-06-01","v":760},{"t":"2020-07-01","v":758},{"t":"2020-08-01","v":747},{"t":"2020-09-01","v":735},{"t":"2020-10-01","v":727},{"t":"2020-11-01","v":765},{"t":"2020-12-01","v":795},{"t":"2021-01-01","v":815},{"t":"2021-02-01","v":880},{"t":"2021-03-01","v":1000},{"t":"2021-04-01","v":1063},{"t":"2021-05-01","v":1084},{"t":"2021-05-27","v":1095}],
"tr6001":[{"t":"2019-07-22","v":1853},{"t":"2019-08-01","v":1840},{"t":"2019-09-01","v":1822},{"t":"2019-10-01","v":1800},{"t":"2019-11-01","v":1880},{"t":"2019-12-01","v":2000},{"t":"2020-01-01","v":2100},{"t":"2020-02-01","v":2135},{"t":"2020-03-01","v":2110},{"t":"2020-04-01","v":2040},{"t":"2020-05-01","v":1980},{"t":"2020-06-01","v":1930},{"t":"2020-07-01","v":1900},{"t":"2020-08-01","v":1872},{"t":"2020-09-01","v":1825},{"t":"2020-10-01","v":1830},{"t":"2020-11-01","v":2010},{"t":"2020-12-01","v":2085},{"t":"2021-01-01","v":2103},{"t":"2021-01-20","v":2130},{"t":"2021-02-01","v":2170},{"t":"2021-02-15","v":2380},{"t":"2021-03-01","v":2560},{"t":"2021-03-15","v":2720},{"t":"2021-04-01","v":2805},{"t":"2021-04-15","v":2800},{"t":"2021-05-01","v":2720},{"t":"2021-05-27","v":2590}],
"swe":[{"t":"2016-10-01","v":0},{"t":"2016-11-02","v":0},{"t":"2016-11-04","v":2},{"t":"2016-11-10","v":15},{"t":"2016-11-13","v":18},{"t":"2016-11-15","v":14},{"t":"2016-11-18","v":6},{"t":"2016-11-26","v":3},{"t":"2016-12-03","v":2.4},{"t":"2017-01-04","v":2.4},{"t":"2017-01-09","v":16.6},{"t":"2017-01-14","v":20.7},{"t":"2017-01-20","v":23},{"t":"2017-01-25","v":20.7},{"t":"2017-01-31","v":19},{"t":"2017-02-05","v":31.5},{"t":"2017-02-11","v":39.6},{"t":"2017-02-19","v":28.8},{"t":"2017-03-02","v":16.6},{"t":"2017-03-10","v":11},{"t":"2017-03-18","v":5.8},{"t":"2017-03-29","v":0.4},{"t":"2017-04-27","v":0},{"t":"2017-04-30","v":16.6},{"t":"2017-05-03","v":0},{"t":"2017-11-05","v":0},{"t":"2017-11-08","v":8},{"t":"2017-11-13","v":4},{"t":"2017-11-21","v":5},{"t":"2017-11-29","v":3},{"t":"2017-12-05","v":7},{"t":"2017-12-10","v":8},{"t":"2017-12-16","v":16.6},{"t":"2017-12-24","v":19},{"t":"2018-01-01","v":30},{"t":"2018-01-06","v":34},{"t":"2018-01-12","v":42},{"t":"2018-01-17","v":35.6},{"t":"2018-01-20","v":42},{"t":"2018-01-23","v":65},{"t":"2018-01-26","v":54.5},{"t":"2018-02-01","v":56},{"t":"2018-02-09","v":58.6},{"t":"2018-02-17","v":61},{"t":"2018-02-25","v":58.6},{"t":"2018-03-02","v":57},{"t":"2018-03-08","v":39.6},{"t":"2018-03-16","v":23},{"t":"2018-03-24","v":18},{"t":"2018-04-01","v":10},{"t":"2018-04-09","v":1.8},{"t":"2018-04-17","v":0},{"t":"2018-10-26","v":0},{"t":"2018-10-29","v":6},{"t":"2018-11-03","v":0},{"t":"2018-12-01","v":0},{"t":"2018-12-06","v":8},{"t":"2018-12-12","v":15},{"t":"2018-12-22","v":16},{"t":"2018-12-31","v":14},{"t":"2019-01-05","v":37},{"t":"2019-01-10","v":77},{"t":"2019-01-24","v":78},{"t":"2019-02-05","v":85},{"t":"2019-02-12","v":91},{"t":"2019-02-17","v":90},{"t":"2019-02-23","v":83},{"t":"2019-02-28","v":60},{"t":"2019-03-06","v":42},{"t":"2019-03-11","v":31},{"t":"2019-03-14","v":23},{"t":"2019-03-19","v":29},{"t":"2019-03-24","v":19},{"t":"2019-04-01","v":8},{"t":"2019-04-06","v":3},{"t":"2019-04-17","v":0},{"t":"2019-05-01","v":1.5},{"t":"2019-05-10","v":0},{"t":"2019-11-08","v":0},{"t":"2019-11-13","v":10.5},{"t":"2019-11-21","v":8.5},{"t":"2019-12-03","v":4.5},{"t":"2019-12-11","v":10},{"t":"2019-12-19","v":8},{"t":"2019-12-25","v":12},{"t":"2020-01-05","v":9},{"t":"2020-01-21","v":8.5},{"t":"2020-01-30","v":10},{"t":"2020-02-04","v":20.7},{"t":"2020-02-09","v":15},{"t":"2020-02-18","v":8.5},{"t":"2020-02-26","v":12},{"t":"2020-03-05","v":4.5},{"t":"2020-03-13","v":7},{"t":"2020-03-21","v":3},{"t":"2020-03-30","v":1},{"t":"2020-04-07","v":0},{"t":"2020-10-16","v":0},{"t":"2020-10-24","v":12.6},{"t":"2020-10-27","v":7},{"t":"2020-11-02","v":3},{"t":"2020-11-18","v":0},{"t":"2020-12-02","v":0},{"t":"2020-12-07","v":37},{"t":"2020-12-13","v":39},{"t":"2020-12-21","v":36},{"t":"2020-12-26","v":37.6},{"t":"2021-01-09","v":38},{"t":"2021-01-14","v":58.6},{"t":"2021-01-20","v":64},{"t":"2021-01-25","v":68},{"t":"2021-02-01","v":87},{"t":"2021-02-06","v":75},{"t":"2021-02-11","v":83},{"t":"2021-02-17","v":83},{"t":"2021-02-22","v":66.7},{"t":"2021-03-02","v":47.8},{"t":"2021-03-11","v":26},{"t":"2021-03-16","v":19},{"t":"2021-03-19","v":24.8},{"t":"2021-03-24","v":19},{"t":"2021-04-02","v":8.5},{"t":"2021-04-10","v":11},{"t":"2021-04-18","v":3},{"t":"2021-04-29","v":0},{"t":"2021-05-02","v":6},{"t":"2021-05-07","v":0},{"t":"2021-05-28","v":0}],
"melt":[{"t":"2016-11-06","v":0,"s":1},{"t":"2016-11-13","v":8.5,"s":1},{"t":"2016-11-24","v":20.7,"s":1},{"t":"2016-11-29","v":22.7,"s":1},{"t":"2017-01-12","v":23.4,"s":1},{"t":"2017-01-25","v":24,"s":1},{"t":"2017-01-31","v":28.8,"s":1},{"t":"2017-02-13","v":43.7,"s":1},{"t":"2017-02-24","v":60,"s":1},{"t":"2017-03-07","v":77.5,"s":1},{"t":"2017-03-18","v":88,"s":1},{"t":"2017-03-29","v":91,"s":1},{"t":"2017-04-20","v":92.4,"s":1},{"t":"2017-04-28","v":94.5,"s":1},{"t":"2017-05-01","v":111,"s":1},{"t":"2017-05-05","v":122,"s":1},{"t":"2017-11-05","v":0,"s":2},{"t":"2017-11-13","v":11,"s":2},{"t":"2017-11-24","v":15,"s":2},{"t":"2017-12-05","v":16.6,"s":2},{"t":"2017-12-10","v":26,"s":2},{"t":"2017-12-21","v":27.5,"s":2},{"t":"2018-01-01","v":33,"s":2},{"t":"2018-01-06","v":42,"s":2},{"t":"2018-01-12","v":46,"s":2},{"t":"2018-01-20","v":47,"s":2},{"t":"2018-01-26","v":61,"s":2},{"t":"2018-02-01","v":62,"s":2},{"t":"2018-02-14","v":63,"s":2},{"t":"2018-02-25","v":67,"s":2},{"t":"2018-03-02","v":69,"s":2},{"t":"2018-03-08","v":87,"s":2},{"t":"2018-03-13","v":108.7,"s":2},{"t":"2018-03-18","v":118,"s":2},{"t":"2018-03-24","v":127.6,"s":2},{"t":"2018-03-29","v":135.7,"s":2},{"t":"2018-04-09","v":146,"s":2},{"t":"2018-04-20","v":148.6,"s":2},{"t":"2018-10-26","v":0,"s":3},{"t":"2018-10-29","v":18,"s":3},{"t":"2018-11-09","v":19,"s":3},{"t":"2018-11-25","v":20.7,"s":3},{"t":"2018-12-12","v":23.4,"s":3},{"t":"2018-12-22","v":30,"s":3},{"t":"2019-01-02","v":33,"s":3},{"t":"2019-01-18","v":33.6,"s":3},{"t":"2019-02-01","v":34,"s":3},{"t":"2019-02-12","v":35,"s":3},{"t":"2019-02-17","v":37,"s":3},{"t":"2019-02-23","v":53,"s":3},{"t":"2019-02-28","v":67,"s":3},{"t":"2019-03-06","v":84,"s":3},{"t":"2019-03-11","v":103,"s":3},{"t":"2019-03-17","v":122,"s":3},{"t":"2019-03-22","v":141,"s":3},{"t":"2019-03-28","v":155,"s":3},{"t":"2019-04-05","v":161,"s":3},{"t":"2019-04-13","v":171,"s":3},{"t":"2019-04-24","v":173.6,"s":3},{"t":"2019-05-05","v":175,"s":3},{"t":"2019-05-09","v":179,"s":3},{"t":"2019-05-13","v":181.6,"s":3},{"t":"2019-11-08","v":0,"s":4},{"t":"2019-11-16","v":11,"s":4},{"t":"2019-11-24","v":20.7,"s":4},{"t":"2019-12-03","v":23.4,"s":4},{"t":"2019-12-14","v":30,"s":4},{"t":"2019-12-25","v":37,"s":4},{"t":"2020-01-05","v":38,"s":4},{"t":"2020-01-21","v":39.6,"s":4},{"t":"2020-01-31","v":43.7,"s":4},{"t":"2020-02-12","v":52,"s":4},{"t":"2020-02-23","v":62.6,"s":4},{"t":"2020-03-03","v":73.5,"s":4},{"t":"2020-03-11","v":83,"s":4},{"t":"2020-03-16","v":92.4,"s":4},{"t":"2020-03-25","v":96.5,"s":4},{"t":"2020-04-02","v":99,"s":4},{"t":"2020-09-25","v":0,"s":5},{"t":"2020-10-08","v":3,"s":5},{"t":"2020-10-16","v":4.5,"s":5},{"t":"2020-10-24","v":11,"s":5},{"t":"2020-11-02","v":19,"s":5},{"t":"2020-11-10","v":22,"s":5},{"t":"2020-11-29","v":23.4,"s":5},{"t":"2020-12-10","v":24.8,"s":5},{"t":"2020-12-21","v":34,"s":5},{"t":"2021-01-12","v":35.6,"s":5},{"t":"2021-01-29","v":37,"s":5},{"t":"2021-02-03","v":49,"s":5},{"t":"2021-02-11","v":58.6,"s":5},{"t":"2021-02-20","v":73.5,"s":5},{"t":"2021-02-28","v":100.5,"s":5},{"t":"2021-03-08","v":119.5,"s":5},{"t":"2021-03-19","v":137,"s":5},{"t":"2021-03-30","v":150.6,"s":5},{"t":"2021-04-10","v":165,"s":5},{"t":"2021-04-21","v":175,"s":5},{"t":"2021-05-02","v":181.7,"s":5},{"t":"2021-05-21","v":183.8,"s":5}],
"prec":[{"t":"2016-10-03","v":4},{"t":"2016-10-09","v":11},{"t":"2016-10-17","v":6},{"t":"2016-10-28","v":12},{"t":"2016-11-05","v":3},{"t":"2016-11-14","v":8},{"t":"2016-11-22","v":5},{"t":"2016-12-02","v":2},{"t":"2016-12-18","v":4},{"t":"2017-01-06","v":3},{"t":"2017-01-14","v":2},{"t":"2017-01-27","v":5},{"t":"2017-02-02","v":17},{"t":"2017-02-10","v":4},{"t":"2017-02-20","v":6},{"t":"2017-03-04","v":10},{"t":"2017-03-15","v":4},{"t":"2017-03-22","v":6},{"t":"2017-04-04","v":3},{"t":"2017-04-20","v":5},{"t":"2017-05-07","v":7},{"t":"2017-05-15","v":4},{"t":"2017-05-26","v":8},{"t":"2017-06-02","v":18},{"t":"2017-06-05","v":12},{"t":"2017-06-10","v":20},{"t":"2017-06-18","v":14},{"t":"2017-06-23","v":23},{"t":"2017-06-27","v":19},{"t":"2017-07-02","v":10},{"t":"2017-07-08","v":12},{"t":"2017-07-14","v":25},{"t":"2017-07-18","v":8},{"t":"2017-07-22","v":14},{"t":"2017-07-27","v":6},{"t":"2017-08-02","v":22},{"t":"2017-08-08","v":54},{"t":"2017-08-11","v":28},{"t":"2017-08-16","v":15},{"t":"2017-08-22","v":9},{"t":"2017-08-29","v":65},{"t":"2017-09-03","v":18},{"t":"2017-09-06","v":37},{"t":"2017-09-12","v":10},{"t":"2017-09-18","v":16},{"t":"2017-09-24","v":6},{"t":"2017-10-03","v":5},{"t":"2017-10-14","v":3},{"t":"2017-10-26","v":8},{"t":"2017-11-05","v":19},{"t":"2017-11-12","v":6},{"t":"2017-11-20","v":4},{"t":"2017-12-04","v":8},{"t":"2017-12-13","v":34},{"t":"2017-12-20","v":10},{"t":"2018-01-03","v":12},{"t":"2018-01-07","v":24},{"t":"2018-01-15","v":18},{"t":"2018-01-24","v":23},{"t":"2018-02-06","v":6},{"t":"2018-02-15","v":8},{"t":"2018-03-01","v":4},{"t":"2018-03-12","v":10},{"t":"2018-03-22","v":12},{"t":"2018-04-02","v":6},{"t":"2018-04-12","v":8},{"t":"2018-04-28","v":10},{"t":"2018-05-06","v":7},{"t":"2018-05-14","v":12},{"t":"2018-05-22","v":9},{"t":"2018-05-30","v":14},{"t":"2018-06-06","v":11},{"t":"2018-06-14","v":18},{"t":"2018-06-22","v":12},{"t":"2018-06-29","v":20},{"t":"2018-07-06","v":10},{"t":"2018-07-14","v":16},{"t":"2018-07-21","v":22},{"t":"2018-07-29","v":15},{"t":"2018-08-06","v":10},{"t":"2018-08-14","v":21},{"t":"2018-08-22","v":14},{"t":"2018-09-01","v":17},{"t":"2018-09-08","v":12},{"t":"2018-09-20","v":6},{"t":"2018-10-05","v":5},{"t":"2018-10-15","v":3},{"t":"2018-10-27","v":70},{"t":"2018-11-03","v":6},{"t":"2018-11-12","v":10},{"t":"2018-11-24","v":30},{"t":"2018-12-03","v":12},{"t":"2018-12-12","v":33},{"t":"2018-12-22","v":8},{"t":"2019-01-06","v":14},{"t":"2019-01-14","v":39},{"t":"2019-01-22","v":20},{"t":"2019-02-04","v":10},{"t":"2019-02-16","v":20},{"t":"2019-02-25","v":14},{"t":"2019-03-06","v":8},{"t":"2019-03-13","v":36},{"t":"2019-03-20","v":28},{"t":"2019-04-02","v":22},{"t":"2019-04-06","v":36},{"t":"2019-04-14","v":12},{"t":"2019-04-26","v":32},{"t":"2019-05-10","v":21},{"t":"2019-05-20","v":14},{"t":"2019-06-03","v":26},{"t":"2019-06-12","v":18},{"t":"2019-06-22","v":20},{"t":"2019-07-02","v":15},{"t":"2019-07-12","v":18},{"t":"2019-07-22","v":12},{"t":"2019-08-02","v":25},{"t":"2019-08-11","v":44},{"t":"2019-08-13","v":39},{"t":"2019-08-20","v":16},{"t":"2019-08-28","v":14},{"t":"2019-09-05","v":30},{"t":"2019-09-10","v":29},{"t":"2019-09-17","v":10},{"t":"2019-09-24","v":28},{"t":"2019-10-08","v":12},{"t":"2019-10-16","v":18},{"t":"2019-10-25","v":8},{"t":"2019-11-03","v":21},{"t":"2019-11-14","v":10},{"t":"2019-11-25","v":6},{"t":"2019-12-08","v":12},{"t":"2019-12-20","v":9},{"t":"2020-01-04","v":4},{"t":"2020-01-20","v":6},{"t":"2020-02-04","v":10},{"t":"2020-02-20","v":8},{"t":"2020-03-05","v":6},{"t":"2020-03-20","v":4},{"t":"2020-04-10","v":3},{"t":"2020-04-25","v":8},{"t":"2020-05-06","v":12},{"t":"2020-05-15","v":10},{"t":"2020-05-25","v":14},{"t":"2020-06-05","v":69},{"t":"2020-06-12","v":14},{"t":"2020-06-20","v":11},{"t":"2020-06-28","v":15},{"t":"2020-07-06","v":9},{"t":"2020-07-15","v":16},{"t":"2020-07-25","v":12},{"t":"2020-08-04","v":18},{"t":"2020-08-12","v":10},{"t":"2020-08-20","v":24},{"t":"2020-08-28","v":36},{"t":"2020-09-05","v":12},{"t":"2020-09-14","v":20},{"t":"2020-09-24","v":40},{"t":"2020-10-04","v":10},{"t":"2020-10-14","v":8},{"t":"2020-10-24","v":66},{"t":"2020-11-05","v":8},{"t":"2020-11-18","v":6},{"t":"2020-12-02","v":5},{"t":"2020-12-15","v":12},{"t":"2020-12-28","v":6},{"t":"2021-01-08","v":14},{"t":"2021-01-20","v":27},{"t":"2021-02-04","v":20},{"t":"2021-02-15","v":10},{"t":"2021-03-02","v":8},{"t":"2021-03-14","v":6},{"t":"2021-04-02","v":10},{"t":"2021-04-18","v":14},{"t":"2021-04-28","v":17},{"t":"2021-05-06","v":12},{"t":"2021-05-14","v":18},{"t":"2021-05-22","v":9}]
},
"vconcat":[
{"width":1188,"height":477,"title":{"text":"a)"},
"layer":[
{"data":{"name":"swi"},"mark":{"type":"line","strokeWidth":2.2},"encoding":{
"x":{"field":"t","type":"temporal","scale":{"type":"utc","domain":[{"year":2016,"month":9,"date":30,"utc":true},{"year":2021,"month":5,"date":28,"utc":true}]},"axis":{"title":null,"labels":false,"tickCount":{"interval":"month","step":1},"grid":true,"gridOpacity":{"condition":{"test":"utcmonth(datum.value) % 6 == 1","value":1},"value":0},"tickSize":{"condition":{"test":"utcmonth(datum.value) % 6 == 1","value":8},"value":4}}},
"y":{"field":"v","type":"quantitative","scale":{"domain":[0,800],"nice":false},"axis":{"title":"SWI [mm]","format":"d","values":[0,100,200,300,400,500,600,700],"grid":true,"tickSize":7,"labelPadding":5,"minExtent":61,"maxExtent":61,"titlePadding":8}},
"color":{"datum":"SWI (Surface Water Input)","type":"nominal","scale":{"domain":["SWI (Surface Water Input)","SWI kumulativ","SWI Monatssumme"],"range":["#1f4a8e","#24461f","#c0142c"]},
"legend":{"title":null,"orient":"top-right","offset":5,"encode":{"symbols":{"update":{"shape":{"signal":"datum.label === 'SWI Monatssumme' ? 'M-1,-0.5H3V0.5H-1Z' : 'M-1,0H3'"},"fill":{"signal":"datum.label === 'SWI Monatssumme' ? '#c0142c' : 'transparent'"}}}}}}}},
{"data":{"name":"mon"},"mark":{"type":"rule","strokeWidth":1.2,"opacity":0.6},"encoding":{"x":{"field":"t","type":"temporal"},"y":{"field":"v","type":"quantitative"},"y2":{"datum":0},"color":{"datum":"SWI Monatssumme","type":"nominal"}}},
{"data":{"name":"cum"},"mark":{"type":"line","strokeWidth":3},"encoding":{"x":{"field":"t","type":"temporal"},"y":{"field":"v","type":"quantitative"},"color":{"datum":"SWI kumulativ","type":"nominal"}}}
]},
{"width":1188,"height":475,"title":{"text":"b)","offset":7},
"layer":[
{"data":{"name":"bandsL"},"mark":{"type":"rect","color":"#d3d7ef","opacity":0.55},"encoding":{
"x":{"field":"t","type":"temporal","scale":{"type":"utc","domain":[{"year":2016,"month":9,"date":30,"utc":true},{"year":2021,"month":5,"date":28,"utc":true}]},"axis":{"title":null,"labels":false,"tickCount":{"interval":"month","step":1},"grid":true,"gridOpacity":{"condition":{"test":"utcmonth(datum.value) % 6 == 1","value":1},"value":0},"tickSize":{"condition":{"test":"utcmonth(datum.value) % 6 == 1","value":8},"value":4}}},
"x2":{"field":"t2"}}},
{"data":{"name":"bandsD"},"mark":{"type":"rect","color":"#8e8e9e","opacity":0.32},"encoding":{"x":{"field":"t","type":"temporal"},"x2":{"field":"t2"}}},
{"data":{"name":"oct"},"mark":{"type":"rule","color":"#222","strokeWidth":2,"strokeDash":[2,3]},"encoding":{"x":{"field":"t","type":"temporal"}}},
{"data":{"name":"refl"},"mark":{"type":"line","strokeWidth":1.6},"encoding":{"x":{"field":"t","type":"temporal"},
"y":{"field":"v","type":"quantitative","scale":{"domain":[0,3000],"nice":false},"axis":{"title":"Verschiebungsrate [mm/y]","format":"d","values":[0,500,1000,1500,2000,2500,3000],"grid":true,"tickSize":7,"labelPadding":5,"minExtent":61,"maxExtent":61,"titlePadding":8}},
"color":{"datum":"Refl. 304 (Dorf Brienz / Flysch)","type":"nominal","scale":{"domain":["GPS 6001 (Caltgeras / Flysch)","GPS 5001 (Dorf Brienz / Flysch)","Refl. 304 (Dorf Brienz / Flysch)","GPS 5002 (Tganaletta / Flysch)","GPS 5003 (Tschersas / Flysch)","trend"],"range":["#2c5b9c","#e08e3c","#3d7d2c","#b22028","#5b4a90","#c0282d"]},"legend":{"title":null,"orient":"top-left","offset":7}}}},
{"data":{"name":"g5001"},"mark":{"type":"line","strokeWidth":1.6},"encoding":{"x":{"field":"t","type":"temporal"},"y":{"field":"v","type":"quantitative"},"color":{"datum":"GPS 5001 (Dorf Brienz / Flysch)","type":"nominal"}}},
{"data":{"name":"g5002"},"mark":{"type":"line","strokeWidth":1.6},"encoding":{"x":{"field":"t","type":"temporal"},"y":{"field":"v","type":"quantitative"},"color":{"datum":"GPS 5002 (Tganaletta / Flysch)","type":"nominal"}}},
{"data":{"name":"g5003"},"mark":{"type":"line","strokeWidth":1.6},"encoding":{"x":{"field":"t","type":"temporal"},"y":{"field":"v","type":"quantitative"},"color":{"datum":"GPS 5003 (Tschersas / Flysch)","type":"nominal"}}},
{"data":{"name":"g6001"},"mark":{"type":"line","strokeWidth":1.6},"encoding":{"x":{"field":"t","type":"temporal"},"y":{"field":"v","type":"quantitative"},"color":{"datum":"GPS 6001 (Caltgeras / Flysch)","type":"nominal"}}},
{"data":{"name":"trRefl"},"mark":{"type":"line","strokeWidth":1.8,"interpolate":"monotone"},"encoding":{"x":{"field":"t","type":"temporal"},"y":{"field":"v","type":"quantitative"},"color":{"datum":"trend","type":"nominal"}}},
{"data":{"name":"tr5001"},"mark":{"type":"line","strokeWidth":1.8,"interpolate":"monotone"},"encoding":{"x":{"field":"t","type":"temporal"},"y":{"field":"v","type":"quantitative"},"color":{"datum":"trend","type":"nominal"}}},
{"data":{"name":"tr5002"},"mark":{"type":"line","strokeWidth":1.8,"interpolate":"monotone"},"encoding":{"x":{"field":"t","type":"temporal"},"y":{"field":"v","type":"quantitative"},"color":{"datum":"trend","type":"nominal"}}},
{"data":{"name":"tr5003"},"mark":{"type":"line","strokeWidth":1.8,"interpolate":"monotone"},"encoding":{"x":{"field":"t","type":"temporal"},"y":{"field":"v","type":"quantitative"},"color":{"datum":"trend","type":"nominal"}}},
{"data":{"name":"tr6001"},"mark":{"type":"line","strokeWidth":1.8,"interpolate":"monotone"},"encoding":{"x":{"field":"t","type":"temporal"},"y":{"field":"v","type":"quantitative"},"color":{"datum":"trend","type":"nominal"}}}
]},
{"width":1188,"height":475,"title":{"text":"c)"},
"layer":[
{"data":{"name":"bandsL"},"mark":{"type":"rect","color":"#d3d7ef","opacity":0.55},"encoding":{
"x":{"field":"t","type":"temporal","scale":{"type":"utc","domain":[{"year":2016,"month":9,"date":30,"utc":true},{"year":2021,"month":5,"date":28,"utc":true}]},"axis":{"title":null,"labelExpr":"utcmonth(datum.value) % 6 == 1 ? utcFormat(datum.value, '%Y-%m') : ''","labelOverlap":false,"labelFlush":false,"labelPadding":6,"tickCount":{"interval":"month","step":1},"grid":true,"gridOpacity":{"condition":{"test":"utcmonth(datum.value) % 6 == 1","value":1},"value":0},"tickSize":{"condition":{"test":"utcmonth(datum.value) % 6 == 1","value":8},"value":4}}},
"x2":{"field":"t2"}}},
{"data":{"name":"bandsD"},"mark":{"type":"rect","color":"#8e8e9e","opacity":0.32},"encoding":{"x":{"field":"t","type":"temporal"},"x2":{"field":"t2"}}},
{"data":{"name":"oct"},"mark":{"type":"rule","color":"#222","strokeWidth":2,"strokeDash":[2,3]},"encoding":{"x":{"field":"t","type":"temporal"}}},
{"data":{"name":"prec"},"mark":{"type":"rule","strokeWidth":1},"encoding":{"x":{"field":"t","type":"temporal"},
"y":{"field":"v","type":"quantitative","scale":{"domain":[0,192],"nice":false},"axis":{"title":"SWE [mm]","format":"d","values":[0,25,50,75,100,125,150,175],"grid":true,"tickSize":7,"labelPadding":5,"minExtent":61,"maxExtent":61,"titlePadding":8}},
"y2":{"datum":0},
"color":{"datum":"Tagesniederschlag","type":"nominal","scale":{"domain":["SWE (Snow Water Equivalent)","Snow Melt kum. [mm]","Tagesniederschlag"],"range":["#d8993a","#74abc9","#213f86"]},
"legend":{"title":null,"orient":"top-left","offset":5,"encode":{"symbols":{"update":{"shape":{"signal":"datum.label === 'Tagesniederschlag' ? 'M-1,-0.5H3V0.5H-1Z' : 'M-1,0H3'"},"fill":{"signal":"datum.label === 'Tagesniederschlag' ? '#213f86' : 'transparent'"}}}}}}}},
{"data":{"name":"swe"},"mark":{"type":"line","strokeWidth":2.6},"encoding":{"x":{"field":"t","type":"temporal"},"y":{"field":"v","type":"quantitative"},"color":{"datum":"SWE (Snow Water Equivalent)","type":"nominal"}}},
{"data":{"name":"melt"},"mark":{"type":"line","strokeWidth":2.6},"encoding":{"x":{"field":"t","type":"temporal"},"y":{"field":"v","type":"quantitative"},"detail":{"field":"s","type":"nominal"},"color":{"datum":"Snow Melt kum. [mm]","type":"nominal"}}}
]}
]}
